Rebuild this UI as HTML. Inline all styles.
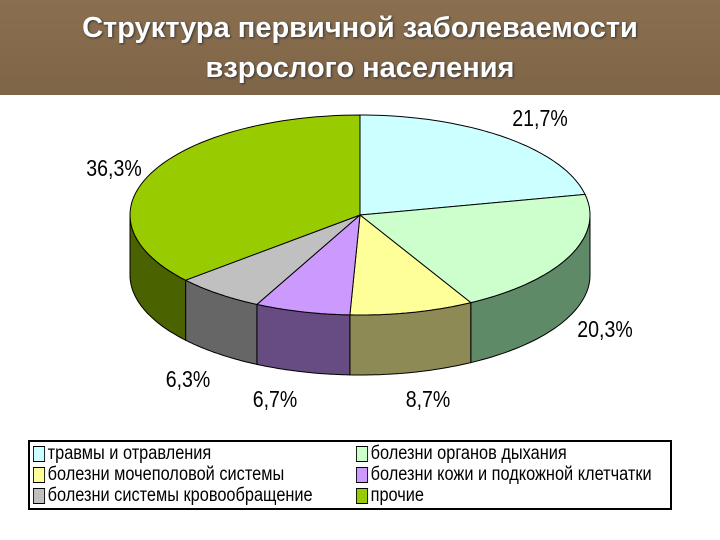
<!DOCTYPE html>
<html><head><meta charset="utf-8">
<style>
body{margin:0;width:720px;height:540px;background:#fff;overflow:hidden;font-family:"Liberation Sans",sans-serif}
#title{position:absolute;left:0;top:0;width:720px;height:95px;background:linear-gradient(#8a6f4f,#7f6547);color:#fff;font-weight:bold;font-size:29px;text-align:center;line-height:40px;padding-top:8px;box-sizing:border-box;text-shadow:1px 1px 2px #333}
#legend{position:absolute;left:28px;top:440px;width:644px;height:70px;border:2px solid #000;box-sizing:border-box;font-size:19px;color:#000}
.li{position:absolute;display:flex;align-items:center;white-space:nowrap;transform:scaleX(0.86);transform-origin:left center}
.sw{width:12px;height:14px;border:1px solid #000;margin-right:3px}
</style></head><body>
<div id="title">Структура первичной заболеваемости<br>взрослого населения</div>
<svg id="pie" width="720" height="540" style="position:absolute;left:0;top:0"></svg>
<div id="legend"></div>
<script>
const categories=["травмы и отравления","болезни органов дыхания","болезни мочеполовой системы","болезни кожи и подкожной клетчатки","болезни системы кровообращение","прочие"];
const values=[21.7,20.3,8.7,6.7,6.3,36.3];
const labels=["21,7%","20,3%","8,7%","6,7%","6,3%","36,3%"];
const topColors=["#ccffff","#ccffcc","#ffff99","#cc99ff","#c0c0c0","#99cc00"];
const sideColors=["#6a9999","#5f8a68","#8e8a55","#664c80","#666666","#4a6200"];
const labelPos=[[540,126],[605,337],[428,407],[275,407],[188,387],[114,176]];
const cx=360,cy=215,rx=230,ry=100,dep=60;
const svg=document.getElementById('pie');const NS="http://www.w3.org/2000/svg";
const total=values.reduce((a,b)=>a+b,0);
function pt(t,dy){return [cx+rx*Math.sin(t),cy-ry*Math.cos(t)+(dy||0)];}
function arc(a,b,dy,n){let s=[];for(let i=0;i<=n;i++){const t=a+(b-a)*i/n;const p=pt(t,dy);s.push(p[0].toFixed(1)+","+p[1].toFixed(1));}return s;}
let angs=[0];values.forEach(v=>angs.push(angs[angs.length-1]+v/total*2*Math.PI));
for(let i=0;i<values.length;i++){
 const a=Math.max(angs[i],Math.PI/2),b=Math.min(angs[i+1],3*Math.PI/2);
 if(b<=a)continue;
 const top=arc(a,b,0,40),bot=arc(b,a,dep,40);
 const p=document.createElementNS(NS,'polygon');
 p.setAttribute('points',top.concat(bot).join(' '));
 p.setAttribute('fill',sideColors[i]);p.setAttribute('stroke','#000');p.setAttribute('stroke-width','1');
 
 
 svg.appendChild(p);
}
for(let i=0;i<values.length;i++){
 const pts=[cx+","+cy].concat(arc(angs[i],angs[i+1],0,60));
 const p=document.createElementNS(NS,'polygon');
 p.setAttribute('points',pts.join(' '));
 p.setAttribute('fill',topColors[i]);p.setAttribute('stroke','#000');p.setAttribute('stroke-width','1');
 
 
 svg.appendChild(p);
 const t=document.createElementNS(NS,'text');
 t.setAttribute('x',0);t.setAttribute('y',0);
 t.setAttribute('transform','translate('+labelPos[i][0]+','+labelPos[i][1]+') scale(0.85,1)');
 t.setAttribute('text-anchor','middle');t.setAttribute('font-size','23');
 t.setAttribute('font-family','Liberation Sans, sans-serif');
 t.textContent=labels[i];
 
 
 svg.appendChild(t);
}
const lg=document.getElementById('legend');
const order=[0,1,2,3,4,5];
order.forEach((i,k)=>{
 const d=document.createElement('div');d.className='li';
 d.style.left=(k%2?326:3)+'px';d.style.top=(1+Math.floor(k/2)*21)+'px';
 d.innerHTML='<span class="sw" style="background:'+topColors[i]+'"></span>'+categories[i];
 
 
 lg.appendChild(d);
});
</script>
</body></html>
